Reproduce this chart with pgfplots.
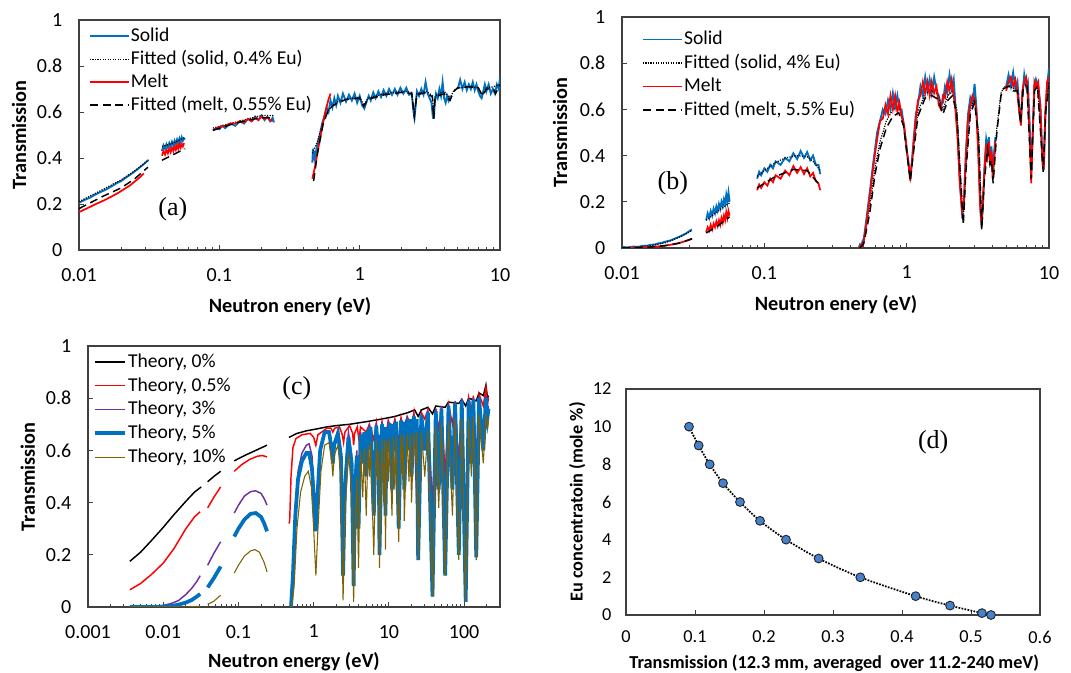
\documentclass[border=0pt]{standalone}
\usepackage{fontspec}
\setmainfont{Carlito}
\newfontfamily\panelfont{Liberation Serif}
\usepackage{pgfplots}
\pgfplotsset{compat=1.18}
\definecolor{sblue}{RGB}{0,112,192}
\definecolor{sred}{RGB}{255,0,0}
\definecolor{spurple}{RGB}{112,48,160}
\definecolor{sbrown}{RGB}{128,96,0}
\definecolor{dblue}{RGB}{68,130,205}
\pgfplotsset{
 myBase/.style={
   scale only axis, clip=true,
   axis line style={black!75, line width=0.9pt},
   tick align=inside, tick pos=left,
   major tick length=4pt, minor tick length=2.5pt,
   tick style={black!75, line width=0.7pt},
   /pgf/number format/assume math mode=true,
   unbounded coords=jump,
   legend cell align=left,
 },
 myTP/.style={
   myBase,
   ymin=0, ymax=1, ytick={0,0.2,0.4,0.6,0.8,1}, yticklabels={0,0.2,0.4,0.6,0.8,1},
   tick label style={font=\fontsize{15}{17}\selectfont},
   label style={font=\fontsize{15.2}{17}\selectfont\bfseries},
   xticklabel style={yshift=-10pt},
   yticklabel style={xshift=-9pt},
   ylabel={Transmission},
   legend style={draw=none, fill=none, font=\fontsize{14.7}{17}\selectfont, inner sep=0pt, row sep=1.25pt, nodes={inner sep=1pt, text height=11pt, text depth=3pt}},
 },
}
\begin{document}
\begin{tikzpicture}
\path[use as bounding box] (0,0) rectangle (803.25pt,504.75pt);

%================ (a)
\begin{axis}[xmode=log, myTP, at={(59.25pt,317.25pt)}, anchor=south west, width=315.75pt, height=172.5pt,
 xmin=0.01, xmax=10, xtick={0.01,0.1,1,10}, xticklabels={0.01,0.1,1,10},
 minor xtick={0.02,0.03,0.04,0.05,0.06,0.07,0.08,0.09,0.2,0.3,0.4,0.5,0.6,0.7,0.8,0.9,2,3,4,5,6,7,8,9},
 xlabel={Neutron enery (eV)},
 xlabel style={at={(axis description cs:0.501,-0.248)}, anchor=center},
 ylabel style={at={(axis description cs:-0.1425,0.5)}, anchor=center},
 legend style={at={(axis description cs:0.023,0.977)}, anchor=north west},
 legend image post style={xscale=1.70},
]
\addplot[sblue, line width=1.4pt] coordinates {
(0.0100,0.205)(0.0110,0.218)(0.0120,0.228)(0.0130,0.240)(0.0140,0.250)(0.0155,0.262)(0.0170,0.276)(0.0185,0.290)(0.0200,0.300)(0.0220,0.318)(0.0240,0.334)(0.0260,0.350)(0.0280,0.366)(0.0300,0.382)(0.0313,0.392)
(0.035,nan)
(0.039,0.43)(0.040,0.455)(0.041,0.44)(0.042,0.46)(0.043,0.445)(0.044,0.465)(0.045,0.45)(0.046,0.47)(0.047,0.455)(0.048,0.475)(0.049,0.46)(0.050,0.48)(0.051,0.465)(0.052,0.485)(0.053,0.47)(0.054,0.49)(0.055,0.475)(0.056,0.485)(0.057,0.48)
(0.07,nan)
(0.090,0.52)(0.095,0.53)(0.10,0.525)(0.105,0.54)(0.11,0.53)(0.12,0.55)(0.13,0.54)(0.14,0.56)(0.15,0.55)(0.16,0.57)(0.17,0.56)(0.18,0.58)(0.19,0.565)(0.20,0.585)(0.21,0.565)(0.22,0.58)(0.23,0.56)(0.24,0.575)(0.245,0.555)
(0.35,nan)
(0.460,0.38)(0.465,0.44)(0.470,0.39)(0.475,0.43)(0.48,0.40)(0.50,0.46)(0.52,0.50)(0.54,0.55)(0.56,0.58)(0.58,0.62)(0.60,0.60)(0.62,0.65)(0.64,0.62)(0.66,0.66)(0.68,0.63)(0.70,0.67)(0.73,0.64)(0.76,0.68)(0.80,0.645)(0.84,0.675)(0.88,0.65)(0.92,0.68)(0.96,0.64)(1.00,0.67)(1.04,0.63)(1.08,0.615)(1.12,0.645)(1.16,0.67)(1.20,0.65)(1.25,0.685)(1.30,0.66)(1.36,0.69)(1.42,0.665)(1.48,0.695)(1.55,0.67)(1.62,0.70)(1.70,0.675)(1.78,0.70)(1.86,0.675)(1.95,0.705)(2.05,0.68)(2.15,0.705)(2.25,0.675)(2.35,0.68)(2.42,0.60)(2.46,0.575)(2.50,0.62)(2.56,0.69)(2.65,0.67)(2.75,0.70)(2.85,0.675)(2.95,0.73)(3.05,0.68)(3.15,0.66)(3.25,0.64)(3.33,0.575)(3.38,0.575)(3.43,0.64)(3.5,0.68)(3.6,0.66)(3.7,0.70)(3.8,0.67)(3.9,0.73)(4.0,0.66)(4.1,0.64)(4.2,0.67)(4.3,0.65)(4.4,0.67)
(4.7,nan)
(5.0,0.70)(5.2,0.74)(5.4,0.70)(5.6,0.73)(5.8,0.695)(6.0,0.72)(6.2,0.70)(6.4,0.73)(6.6,0.695)(6.8,0.72)(7.0,0.69)(7.2,0.67)(7.4,0.66)(7.6,0.69)(7.8,0.72)(8.0,0.69)(8.3,0.72)(8.6,0.68)(8.9,0.70)(9.2,0.68)(9.5,0.72)(9.8,0.70)(10,0.75)
};
\addlegendentry{Solid}
\addplot[black, densely dotted, line width=0.9pt] coordinates {
(0.01,0.21)(0.015,0.265)(0.02,0.305)(0.025,0.345)(0.0313,0.39)
(0.035,nan)
(0.039,0.45)(0.047,0.465)(0.057,0.49)
(0.07,nan)
(0.09,0.53)(0.12,0.55)(0.16,0.57)(0.2,0.585)(0.245,0.585)
(0.35,nan)
(0.46,0.42)(0.5,0.47)(0.55,0.56)(0.6,0.61)(0.7,0.645)(0.8,0.655)(1.0,0.665)(1.07,0.63)(1.15,0.66)(1.5,0.68)(2,0.69)(2.35,0.685)(2.45,0.59)(2.55,0.68)(3,0.69)(3.3,0.67)(3.37,0.58)(3.45,0.67)(4,0.69)(4.4,0.66)(4.7,0.695)(5,0.705)(6,0.71)(7,0.705)(7.5,0.675)(8,0.705)(9,0.71)(10,0.72)
};
\addlegendentry{Fitted (solid, 0.4\% Eu)}
\addplot[sred, line width=1.3pt] coordinates {
(0.0100,0.165)(0.0115,0.182)(0.013,0.198)(0.015,0.215)(0.017,0.232)(0.019,0.248)(0.021,0.265)(0.023,0.28)(0.025,0.298)(0.027,0.315)(0.029,0.333)
(0.035,nan)
(0.039,0.41)(0.040,0.43)(0.041,0.415)(0.042,0.435)(0.043,0.42)(0.044,0.44)(0.045,0.425)(0.046,0.445)(0.047,0.43)(0.048,0.45)(0.049,0.435)(0.050,0.455)(0.051,0.44)(0.052,0.46)(0.053,0.445)(0.054,0.46)(0.055,0.45)(0.056,0.465)
(0.07,nan)
(0.092,0.525)(0.10,0.535)(0.11,0.54)(0.12,0.55)(0.13,0.55)(0.14,0.56)(0.15,0.555)(0.16,0.57)(0.17,0.56)(0.18,0.575)(0.19,0.565)(0.20,0.58)(0.21,0.57)(0.22,0.575)(0.23,0.565)(0.24,0.56)
(0.35,nan)
(0.46,0.31)(0.48,0.36)(0.50,0.42)(0.52,0.48)(0.54,0.53)(0.56,0.58)(0.58,0.62)(0.60,0.655)(0.62,0.68)
};
\addlegendentry{Melt}
\addplot[black, dash pattern=on 6pt off 3.5pt, line width=1.1pt] coordinates {
(0.01,0.18)(0.015,0.235)(0.02,0.27)(0.025,0.31)(0.031,0.36)
(0.035,nan)
(0.039,0.39)(0.047,0.415)(0.057,0.44)
(0.07,nan)
(0.09,0.52)(0.12,0.545)(0.16,0.565)(0.2,0.575)(0.24,0.575)
(0.35,nan)
(0.47,0.30)(0.5,0.42)(0.55,0.55)(0.6,0.61)(0.65,0.63)(0.8,0.655)(1.0,0.66)(1.07,0.625)(1.15,0.655)(1.5,0.675)(2,0.685)(2.35,0.68)(2.45,0.58)(2.55,0.675)(3,0.685)(3.3,0.665)(3.37,0.57)(3.45,0.665)(4,0.68)(4.4,0.65)(4.7,0.69)(5,0.705)(6,0.71)(7,0.705)(7.5,0.67)(8,0.70)(9,0.70)(9.3,0.68)(10,0.72)
};
\addlegendentry{Fitted (melt, 0.55\% Eu)}
\node[font=\panelfont\fontsize{19.5}{22}\selectfont] at (rel axis cs:0.223,0.178) {(a)};
\end{axis}

%================ (b)
\begin{axis}[xmode=log, myTP, at={(466.5pt,318.75pt)}, anchor=south west, width=320.25pt, height=173.25pt,
 xmin=0.01, xmax=10, xtick={0.01,0.1,1,10}, xticklabels={0.01,0.1,1,10},
 minor xtick={0.02,0.03,0.04,0.05,0.06,0.07,0.08,0.09,0.2,0.3,0.4,0.5,0.6,0.7,0.8,0.9,2,3,4,5,6,7,8,9},
 xlabel={Neutron enery (eV)},
 xlabel style={at={(axis description cs:0.501,-0.247)}, anchor=center},
 ylabel style={at={(axis description cs:-0.145,0.5)}, anchor=center},
 legend style={at={(axis description cs:0.046,0.950)}, anchor=north west, row sep=1.6pt},
 legend image post style={xscale=1.71},
]
\addplot[sblue, line width=1.4pt] coordinates {
(0.010,0.004)(0.011,0.003)(0.012,0.006)(0.013,0.005)(0.014,0.009)(0.015,0.01)(0.016,0.014)(0.017,0.015)(0.018,0.02)(0.019,0.022)(0.020,0.027)(0.022,0.033)(0.024,0.043)(0.026,0.052)(0.028,0.062)(0.030,0.075)(0.031,0.08)
(0.035,nan)
(0.039,0.12)(0.040,0.15)(0.041,0.13)(0.042,0.16)(0.043,0.14)(0.044,0.17)(0.045,0.15)(0.046,0.18)(0.047,0.16)(0.048,0.19)(0.049,0.17)(0.050,0.20)(0.051,0.18)(0.052,0.21)(0.053,0.19)(0.054,0.23)(0.055,0.2)(0.056,0.24)(0.057,0.2)
(0.07,nan)
(0.089,0.30)(0.092,0.33)(0.095,0.315)(0.10,0.345)(0.105,0.33)(0.11,0.36)(0.115,0.345)(0.12,0.375)(0.13,0.36)(0.14,0.39)(0.15,0.375)(0.16,0.41)(0.17,0.385)(0.18,0.42)(0.19,0.39)(0.20,0.415)(0.21,0.38)(0.22,0.4)(0.23,0.36)(0.24,0.36)(0.247,0.32)
(0.35,nan)
(0.46,0.0)(0.47,0.015)(0.48,0.005)(0.49,0.03)(0.50,0.04)(0.52,0.12)(0.54,0.2)(0.56,0.28)(0.58,0.36)(0.60,0.43)(0.62,0.50)(0.65,0.55)(0.68,0.60)(0.71,0.58)(0.74,0.64)(0.77,0.60)(0.80,0.67)(0.83,0.61)(0.86,0.66)(0.89,0.60)(0.92,0.60)(0.96,0.52)(1.00,0.43)(1.03,0.36)(1.06,0.31)(1.09,0.38)(1.12,0.47)(1.16,0.58)(1.20,0.62)(1.25,0.70)(1.30,0.66)(1.35,0.74)(1.40,0.68)(1.45,0.73)(1.50,0.67)(1.56,0.74)(1.62,0.68)(1.68,0.66)(1.74,0.62)(1.80,0.63)(1.86,0.70)(1.93,0.67)(2.00,0.75)(2.07,0.69)(2.14,0.73)(2.20,0.62)(2.28,0.50)(2.36,0.30)(2.45,0.15)(2.52,0.18)(2.60,0.40)(2.70,0.58)(2.80,0.65)(2.90,0.62)(3.00,0.71)(3.08,0.62)(3.18,0.45)(3.28,0.2)(3.36,0.09)(3.44,0.2)(3.52,0.35)(3.62,0.47)(3.7,0.43)(3.78,0.48)(3.86,0.38)(3.94,0.44)(4.02,0.33)(4.1,0.40)(4.2,0.48)
(4.5,nan)
(5.0,0.70)(5.2,0.75)(5.4,0.70)(5.6,0.76)(5.8,0.69)(6.0,0.72)(6.2,0.6)(6.35,0.55)(6.5,0.66)(6.7,0.75)(6.9,0.70)(7.1,0.72)(7.3,0.55)(7.5,0.32)(7.7,0.52)(7.9,0.70)(8.1,0.73)(8.4,0.70)(8.7,0.62)(9.0,0.38)(9.2,0.36)(9.4,0.55)(9.7,0.70)(10,0.78)
};
\addlegendentry{Solid}
\addplot[black, densely dotted, line width=0.9pt] coordinates {
(0.01,0.0)(0.013,0.004)(0.016,0.01)(0.02,0.022)(0.025,0.045)(0.031,0.075)
(0.035,nan)
(0.039,0.12)(0.045,0.15)(0.051,0.175)(0.057,0.195)
(0.07,nan)
(0.089,0.31)(0.1,0.335)(0.12,0.37)(0.14,0.39)(0.17,0.40)(0.2,0.395)(0.22,0.375)(0.247,0.335)
(0.35,nan)
(0.47,0)(0.5,0.03)(0.55,0.18)(0.6,0.35)(0.65,0.46)(0.72,0.55)(0.8,0.6)(0.88,0.61)(0.95,0.55)(1.0,0.44)(1.06,0.30)(1.12,0.44)(1.2,0.59)(1.35,0.67)(1.5,0.68)(1.65,0.665)(1.8,0.6)(1.95,0.66)(2.1,0.68)(2.25,0.6)(2.4,0.29)(2.5,0.12)(2.6,0.34)(2.8,0.6)(3.0,0.645)(3.2,0.5)(3.37,0.09)(3.5,0.3)(3.7,0.45)(3.85,0.38)(3.95,0.4)(4.05,0.3)(4.3,0.52)(4.6,0.67)(4.8,0.695)(5.2,0.705)(5.6,0.69)(6.0,0.69)(6.3,0.55)(6.6,0.7)(7.0,0.71)(7.5,0.31)(7.9,0.69)(8.3,0.71)(9.1,0.34)(9.5,0.62)(10,0.72)
};
\addlegendentry{Fitted (solid, 4\% Eu)}
\addplot[sred, line width=1.3pt] coordinates {
(0.010,0.0)(0.012,0.001)(0.014,0.002)(0.016,0.004)(0.018,0.007)(0.020,0.01)(0.022,0.014)(0.024,0.019)(0.026,0.024)(0.028,0.03)(0.030,0.036)(0.031,0.04)
(0.035,nan)
(0.039,0.07)(0.040,0.09)(0.041,0.075)(0.042,0.1)(0.043,0.08)(0.044,0.105)(0.045,0.09)(0.046,0.115)(0.047,0.095)(0.048,0.12)(0.049,0.1)(0.050,0.13)(0.051,0.11)(0.052,0.14)(0.053,0.12)(0.054,0.155)(0.055,0.13)(0.056,0.16)(0.057,0.14)
(0.07,nan)
(0.089,0.25)(0.092,0.275)(0.095,0.26)(0.10,0.285)(0.105,0.27)(0.11,0.30)(0.115,0.285)(0.12,0.315)(0.13,0.30)(0.14,0.335)(0.15,0.315)(0.16,0.355)(0.17,0.325)(0.18,0.35)(0.19,0.32)(0.20,0.345)(0.21,0.31)(0.22,0.325)(0.23,0.29)(0.24,0.28)(0.247,0.25)
(0.35,nan)
(0.46,0.0)(0.47,0.005)(0.48,0.015)(0.49,0.01)(0.50,0.03)(0.52,0.1)(0.54,0.18)(0.56,0.26)(0.58,0.34)(0.60,0.41)(0.62,0.47)(0.65,0.55)(0.68,0.56)(0.71,0.62)(0.74,0.58)(0.77,0.66)(0.80,0.60)(0.83,0.66)(0.86,0.59)(0.89,0.63)(0.92,0.57)(0.96,0.53)(1.00,0.42)(1.03,0.37)(1.06,0.29)(1.09,0.37)(1.12,0.46)(1.16,0.56)(1.20,0.64)(1.25,0.66)(1.30,0.72)(1.35,0.67)(1.40,0.72)(1.45,0.66)(1.50,0.72)(1.56,0.67)(1.62,0.70)(1.68,0.62)(1.74,0.60)(1.80,0.66)(1.86,0.65)(1.93,0.72)(2.00,0.68)(2.07,0.73)(2.14,0.66)(2.20,0.60)(2.28,0.47)(2.36,0.28)(2.45,0.16)(2.52,0.2)(2.60,0.38)(2.70,0.56)(2.80,0.62)(2.90,0.66)(3.00,0.64)(3.08,0.6)(3.18,0.42)(3.28,0.18)(3.36,0.1)(3.44,0.22)(3.52,0.33)(3.62,0.45)(3.7,0.4)(3.78,0.46)(3.86,0.36)(3.94,0.42)(4.02,0.3)(4.1,0.38)(4.2,0.46)
(4.5,nan)
(5.0,0.68)(5.2,0.72)(5.4,0.74)(5.6,0.70)(5.8,0.73)(6.0,0.67)(6.2,0.58)(6.35,0.53)(6.5,0.68)(6.7,0.72)(6.9,0.74)(7.1,0.68)(7.3,0.50)(7.5,0.28)(7.7,0.5)(7.9,0.72)(8.1,0.70)(8.4,0.72)(8.7,0.6)(9.0,0.36)(9.2,0.35)(9.4,0.58)(9.7,0.72)(10,0.74)
};
\addlegendentry{Melt}
\addplot[black, dash pattern=on 6pt off 3.5pt, line width=1.1pt] coordinates {
(0.01,0)(0.015,0.003)(0.02,0.01)(0.025,0.02)(0.031,0.04)
(0.035,nan)
(0.039,0.065)(0.047,0.095)(0.057,0.135)
(0.07,nan)
(0.089,0.26)(0.12,0.31)(0.16,0.34)(0.2,0.335)(0.247,0.27)
(0.35,nan)
(0.47,0)(0.5,0.02)(0.55,0.15)(0.6,0.32)(0.65,0.43)(0.72,0.52)(0.8,0.57)(0.88,0.585)(0.95,0.53)(1.0,0.42)(1.06,0.29)(1.12,0.42)(1.2,0.57)(1.35,0.65)(1.5,0.66)(1.65,0.645)(1.8,0.58)(1.95,0.64)(2.1,0.66)(2.25,0.58)(2.4,0.28)(2.5,0.1)(2.6,0.32)(2.8,0.58)(3.0,0.63)(3.2,0.48)(3.37,0.08)(3.5,0.28)(3.7,0.43)(3.85,0.36)(3.95,0.38)(4.05,0.28)(4.3,0.5)(4.6,0.66)(4.8,0.69)(5.2,0.7)(5.6,0.68)(6.0,0.68)(6.3,0.54)(6.6,0.69)(7.0,0.7)(7.5,0.3)(7.9,0.68)(8.3,0.7)(9.1,0.33)(9.5,0.6)(10,0.7)
};
\addlegendentry{Fitted (melt, 5.5\% Eu)}
\node[font=\panelfont\fontsize{19.5}{22}\selectfont] at (rel axis cs:0.119,0.281) {(b)};
\end{axis}

%================ (c)
\begin{axis}[xmode=log, myTP, at={(66pt,49.5pt)}, anchor=south west, width=309pt, height=195.75pt,
 xmin=0.001, xmax=300, xtick={0.001,0.01,0.1,1,10,100}, xticklabels={0.001,0.01,0.1,1,10,100},
 minor xtick={0.002,0.003,0.004,0.005,0.006,0.007,0.008,0.009,0.02,0.03,0.04,0.05,0.06,0.07,0.08,0.09,0.2,0.3,0.4,0.5,0.6,0.7,0.8,0.9,2,3,4,5,6,7,8,9,20,30,40,50,60,70,80,90,200},
 xlabel={Neutron energy (eV)},
 xlabel style={at={(axis description cs:0.5,-0.211)}, anchor=center},
 ylabel style={at={(axis description cs:-0.146,0.498)}, anchor=center},
 legend style={at={(axis description cs:0.0114,0.981)}, anchor=north west, row sep=1.85pt},
 legend image post style={xscale=1.32},
]
\addplot[black, line width=1.1pt] coordinates {
(0.0036,0.175)(0.005,0.21)(0.007,0.255)(0.01,0.305)(0.014,0.355)(0.02,0.405)(0.026,0.44)(0.032,0.46)
(0.035,nan)
(0.039,0.48)(0.047,0.50)(0.058,0.52)
(0.07,nan)
(0.088,0.56)(0.12,0.58)(0.17,0.60)(0.24,0.62)
(0.35,nan)
(0.47,0.65)(0.6,0.665)(0.8,0.675)(1,0.68)(1.5,0.69)(2,0.695)(3,0.70)(5,0.71)(8,0.72)(12,0.73)(18,0.745)(22,0.755)(24.5,0.73)(27,0.755)(33,0.765)(38,0.74)(42,0.77)(56,0.765)(62,0.785)(85,0.78)(93,0.795)(105,0.77)(115,0.80)(145,0.79)(158,0.82)(180,0.81)(195,0.85)(205,0.80)(211,0.81)
};
\addlegendentry{Theory, 0\%}
\addplot[sred, line width=1.1pt] coordinates {
(0.0036,0.066)(0.005,0.09)(0.007,0.125)(0.01,0.168)(0.014,0.225)(0.02,0.30)(0.026,0.345)(0.031,0.365)
(0.035,nan)
(0.039,0.38)(0.047,0.42)(0.058,0.46)
(0.07,nan)
(0.088,0.52)(0.11,0.545)(0.14,0.565)(0.18,0.578)(0.21,0.58)(0.24,0.575)
(0.35,nan)
(0.47,0.32)(0.48,0.33)(0.50,0.50)(0.53,0.61)(0.58,0.645)(0.7,0.66)(0.9,0.665)(1.0,0.65)(1.07,0.62)(1.14,0.66)(1.5,0.685)(1.7,0.685)(1.8,0.67)(1.9,0.685)(2.2,0.69)(2.4,0.66)(2.5,0.63)(2.6,0.67)(3.0,0.695)(3.3,0.665)(3.4,0.62)(3.5,0.665)(3.8,0.69)(4.0,0.64)(4.2,0.69)(5.0,0.67)(5.5,0.70)(6.3,0.64)(6.8,0.705)(7.5,0.58)(8.1,0.71)(9.0,0.64)(9.8,0.715)(11,0.67)(12,0.72)(13.5,0.63)(14.5,0.725)(16,0.67)(17.5,0.73)(20,0.69)(21.5,0.745)(24.5,0.52)(27,0.745)(30,0.72)(33,0.755)(38,0.38)(42,0.76)(46,0.68)(50,0.77)(56,0.5)(62,0.775)(70,0.7)(76,0.785)(85,0.55)(93,0.79)(105,0.3)(115,0.80)(125,0.75)(133,0.81)(145,0.55)(158,0.815)(180,0.77)(195,0.84)(205,0.78)(211,0.80)
};
\addlegendentry{Theory, 0.5\%}
\addplot[spurple, line width=1.1pt] coordinates {
(0.0036,0.0)(0.006,0.001)(0.008,0.003)(0.01,0.006)(0.013,0.014)(0.016,0.025)(0.02,0.048)(0.024,0.072)(0.028,0.098)(0.031,0.12)
(0.035,nan)
(0.039,0.16)(0.047,0.205)(0.058,0.25)
(0.07,nan)
(0.088,0.36)(0.1,0.39)(0.12,0.425)(0.145,0.442)(0.17,0.445)(0.2,0.435)(0.22,0.415)(0.24,0.39)
(0.35,nan)
(0.48,0.0)(0.5,0.005)(0.53,0.15)(0.57,0.38)(0.62,0.52)(0.7,0.59)(0.8,0.62)(0.87,0.625)(0.95,0.58)(1.02,0.43)(1.07,0.33)(1.12,0.45)(1.22,0.61)(1.4,0.675)(1.6,0.675)(1.75,0.62)(1.8,0.58)(1.87,0.63)(2.1,0.675)(2.3,0.6)(2.46,0.15)(2.6,0.5)(2.9,0.67)(3.2,0.58)(3.4,0.15)(3.55,0.5)(3.75,0.6)(3.95,0.33)(4.2,0.67)(5.0,0.54)(5.5,0.70)(6.3,0.40)(6.8,0.705)(7.5,0.25)(8.1,0.71)(9.0,0.40)(9.8,0.71)(11,0.50)(12,0.72)(13.5,0.35)(14.5,0.72)(16,0.50)(17.5,0.73)(20,0.55)(21.5,0.74)(24.5,0.22)(27,0.74)(30,0.64)(33,0.75)(38,0.06)(42,0.76)(46,0.5)(50,0.77)(56,0.16)(62,0.78)(70,0.5)(76,0.79)(85,0.25)(93,0.8)(105,0.03)(115,0.8)(125,0.6)(133,0.8)(145,0.24)(158,0.81)(180,0.65)(195,0.81)(205,0.75)(211,0.77)
};
\addlegendentry{Theory, 3\%}
\addplot[sblue, line width=2.8pt] coordinates {
(0.0036,0.0)(0.008,0.0)(0.01,0.001)(0.013,0.004)(0.016,0.009)(0.02,0.017)(0.024,0.027)(0.028,0.04)(0.031,0.05)
(0.035,nan)
(0.039,0.075)(0.047,0.11)(0.058,0.155)
(0.07,nan)
(0.088,0.27)(0.1,0.3)(0.12,0.335)(0.145,0.357)(0.17,0.36)(0.2,0.345)(0.22,0.32)(0.24,0.29)
(0.35,nan)
(0.48,0.0)(0.5,0.002)(0.53,0.12)(0.57,0.35)(0.62,0.49)(0.7,0.56)(0.8,0.59)(0.87,0.59)(0.95,0.53)(1.02,0.38)(1.07,0.29)(1.12,0.42)(1.22,0.6)(1.4,0.67)(1.6,0.67)(1.75,0.6)(1.8,0.55)(1.87,0.62)(2.1,0.665)(2.3,0.58)(2.46,0.12)(2.6,0.45)(2.9,0.65)(3.2,0.55)(3.4,0.08)(3.55,0.45)(3.75,0.58)(3.95,0.3)(4.2,0.66)(4.5,0.55)(4.7,0.67)(5.0,0.5)(5.3,0.68)(5.5,0.62)(5.7,0.69)(6.3,0.35)(6.8,0.695)(7.1,0.6)(7.3,0.66)(7.5,0.2)(8.1,0.70)(8.5,0.55)(8.8,0.69)(9.0,0.35)(9.4,0.69)(9.8,0.6)(10.2,0.705)(11,0.45)(11.5,0.70)(12,0.6)(12.5,0.71)(13.5,0.3)(14.5,0.715)(15.2,0.62)(15.6,0.71)(16,0.45)(17.5,0.72)(18.5,0.6)(19.2,0.72)(20,0.5)(21.5,0.73)(23,0.65)(23.5,0.72)(24.5,0.18)(27,0.735)(30,0.6)(33,0.745)(38,0.04)(42,0.75)(46,0.45)(50,0.76)(56,0.12)(62,0.77)(70,0.45)(76,0.78)(85,0.2)(93,0.79)(105,0.02)(115,0.79)(125,0.55)(133,0.795)(145,0.19)(158,0.80)(180,0.6)(195,0.8)(205,0.73)(211,0.76)
};
\addlegendentry{Theory, 5\%}
\addplot[sbrown, line width=0.8pt] coordinates {
(0.0036,0.0)(0.02,0.0)(0.031,0.003)
(0.035,nan)
(0.039,0.01)(0.047,0.022)(0.058,0.045)
(0.07,nan)
(0.088,0.13)(0.1,0.16)(0.12,0.195)(0.145,0.215)(0.165,0.22)(0.19,0.21)(0.22,0.17)(0.24,0.135)
(0.35,nan)
(0.48,0.0)(0.51,0.0)(0.55,0.08)(0.6,0.3)(0.67,0.44)(0.76,0.5)(0.85,0.52)(0.93,0.46)(1.0,0.3)(1.07,0.12)(1.14,0.3)(1.25,0.52)(1.4,0.62)(1.6,0.63)(1.75,0.55)(1.8,0.5)(1.87,0.58)(2.1,0.62)(2.3,0.5)(2.46,0.025)(2.6,0.35)(2.9,0.59)(3.2,0.45)(3.4,0.02)(3.55,0.3)(3.75,0.5)(3.95,0.15)(4.2,0.6)(4.5,0.42)(4.7,0.61)(5.0,0.35)(5.3,0.62)(5.5,0.5)(5.7,0.63)(6.3,0.2)(6.8,0.64)(7.1,0.48)(7.3,0.6)(7.5,0.15)(8.1,0.645)(8.5,0.4)(8.8,0.64)(9.0,0.22)(9.4,0.64)(9.8,0.48)(10.2,0.65)(11,0.35)(11.5,0.65)(12,0.45)(12.5,0.655)(13.5,0.25)(14.5,0.66)(15.2,0.5)(15.6,0.66)(16,0.33)(17.5,0.665)(18.5,0.48)(19.2,0.665)(20,0.4)(21.5,0.67)(23,0.55)(23.5,0.67)(24.5,0.18)(27,0.675)(30,0.5)(33,0.68)(38,0.04)(42,0.69)(46,0.38)(50,0.70)(56,0.12)(62,0.71)(70,0.35)(76,0.72)(85,0.18)(93,0.72)(105,0.02)(115,0.725)(125,0.5)(133,0.73)(145,0.18)(158,0.74)(180,0.55)(195,0.74)(205,0.68)(211,0.72)
};
\addlegendentry{Theory, 10\%}
\node[font=\panelfont\fontsize{19.5}{22}\selectfont] at (rel axis cs:0.507,0.839) {(c)};
\end{axis}

%================ (d)
\begin{axis}[myBase, at={(469.5pt,43.5pt)}, anchor=south west, width=310.5pt, height=169.5pt,
 xmin=0, xmax=0.6, ymin=0, ymax=12,
 xtick={0,0.1,0.2,0.3,0.4,0.5,0.6}, xticklabels={0,0.1,0.2,0.3,0.4,0.5,0.6},
 ytick={0,2,4,6,8,10,12}, yticklabels={0,2,4,6,8,10,12},
 ytick style={draw=none},
 tick label style={font=\fontsize{13.7}{16}\selectfont},
 label style={font=\fontsize{13.7}{16}\selectfont\bfseries},
 xticklabel style={yshift=-8.5pt}, yticklabel style={xshift=-7.5pt},
 xlabel={Transmission (12.3 mm, averaged\ \ over 11.2-240 meV)},
 ylabel={Eu concentratoin (mole \%)},
 xlabel style={at={(axis description cs:0.503,-0.212)}, anchor=center},
 ylabel style={at={(axis description cs:-0.118,0.5)}, anchor=center},
]
\addplot[only marks, mark=*, mark size=3.3pt, mark options={fill=dblue, draw=black!85, line width=0.7pt}] coordinates {
(0.0913,10)(0.1053,9)(0.1213,8)(0.1406,7)(0.1652,6)(0.1942,5)(0.2319,4)(0.2792,3)(0.3396,2)(0.4198,1)(0.4696,0.5)(0.5159,0.1)(0.5290,0)
};
\addplot[black, densely dotted, line width=1.3pt, smooth] coordinates {
(0.0913,10)(0.1053,9)(0.1213,8)(0.1406,7)(0.1652,6)(0.1942,5)(0.2319,4)(0.2792,3)(0.3396,2)(0.4198,1)(0.4696,0.5)(0.5159,0.1)(0.5290,0)
};
\node[font=\panelfont\fontsize{19.5}{22}\selectfont] at (rel axis cs:0.742,0.766) {(d)};
\end{axis}
\end{tikzpicture}
\end{document}
